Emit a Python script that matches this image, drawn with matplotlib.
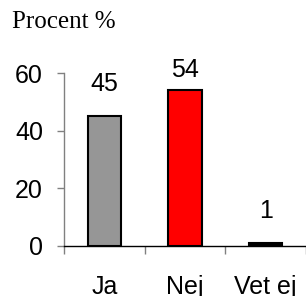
import matplotlib
matplotlib.use("Agg")
from matplotlib import pyplot as plt
import numpy as np

categories = ["Ja", "Nej", "Vet ej"]
values = [45, 54, 1]
colors = ["#969696", "#ff0000", "#000000"]
y_ticks = [0, 20, 40, 60]

fig = plt.figure(figsize=(3.06, 2.96), dpi=100)
ax = fig.add_axes([0.209, 0.169, 0.791, 0.584])

x = np.arange(len(categories))
ax.bar(x, values, width=0.41, color=colors, edgecolor="black", linewidth=1.5, zorder=3)

for xi, v in zip(x, values):
    ax.text(xi, min(v + 7, 57), str(v), ha="center", va="bottom",
            fontsize=18, family="Liberation Sans")

ax.set_xlim(-0.5, 2.5)
ax.set_ylim(0, 60)
ax.set_yticks(y_ticks)
ax.set_yticklabels([str(t) for t in y_ticks], fontsize=18, family="Liberation Sans")
ax.set_xticks(x)
ax.set_xticklabels(categories, fontsize=18, family="Liberation Sans")
ax.set_xticks([-0.5, 0.5, 1.5, 2.5], minor=True)
ax.tick_params(axis="x", which="major", length=0, pad=21)
ax.tick_params(axis="x", which="minor", length=6, width=1, color="#808080", direction="out")
ax.tick_params(axis="y", length=5, width=1, color="#808080", direction="out", pad=10)

for s in ["top", "right"]:
    ax.spines[s].set_visible(False)
ax.spines["left"].set_color("#808080")
ax.spines["left"].set_linewidth(1)
ax.spines["bottom"].set_color("black")
ax.spines["bottom"].set_linewidth(1)

fig.text(12 / 306, 1 - 22 / 296, "Procent %", fontsize=18, family="Liberation Serif",
         ha="left", va="center")

plt.savefig("out.png", dpi=100)
